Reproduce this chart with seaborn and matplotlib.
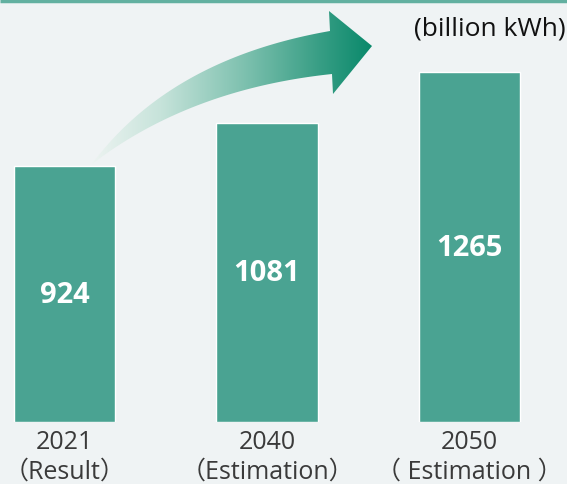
import numpy as np
import matplotlib
matplotlib.use('Agg')
import matplotlib.pyplot as plt
import seaborn as sns
from matplotlib.path import Path
from matplotlib.patches import PathPatch
from matplotlib.colors import LinearSegmentedColormap

# data
years = ['2021', '2040', '2050']
notes = ['（Result）', '（Estimation）', '（ Estimation ）']
values = [924, 1081, 1265]
unit_label = '(billion kWh)'

bg = '#eff3f4'
bar_color = '#4aa392'

sns.set_theme(style='white')
plt.rcParams['font.family'] = ['Open Sans', 'Noto Sans CJK JP', 'DejaVu Sans']

W, H = 567, 485
fig = plt.figure(figsize=(W / 100, H / 100), dpi=100, facecolor=bg)

# bar axes: baseline at y=423 px, bar centres 202.5 px apart
ax = fig.add_axes([0, (H - 423) / H, 1, 423 / H])
ax.set_facecolor(bg)
labels = [f'{y}\n{n}' for y, n in zip(years, notes)]
sns.barplot(x=labels, y=values, color=bar_color, saturation=1, width=0.5, ax=ax)
ax.set_xlim(-64.5 / 202.5, (W - 64.5) / 202.5)
ax.set_ylim(0, 423 / 0.2766)
for s in ax.spines.values():
    s.set_visible(False)
ax.set_yticks([])
ax.tick_params(axis='x', length=0, pad=5, labelsize=18, labelcolor='#3a3a3a')
for t in ax.get_xticklabels():
    t.set_linespacing(1.25)
ax.set_xlabel('')
ax.set_ylabel('')

for i, v in enumerate(values):
    ax.text(i, v / 2, str(v), ha='center', va='center', color='white',
            fontsize=21, fontweight='bold')

# overlay in pixel coords for the arrow and top rule
ov = fig.add_axes([0, 0, 1, 1], facecolor='none')
ov.plot([0, W], [1.5, 1.5], color='#62b0a0', lw=2.5, solid_capstyle='butt')


def qbez(p0, p1, p2, n=60):
    t = np.linspace(0, 1, n)[:, None]
    return (1 - t) ** 2 * np.array(p0) + 2 * (1 - t) * t * np.array(p1) + t ** 2 * np.array(p2)


top = qbez((92, 165), (170, 60), (330, 32))
bot = qbez((92, 165), (190, 90), (332, 75))
head = np.array([[330, 32], [329, 12], [372, 47], [333, 95], [332, 75]])
verts = np.vstack([top, head, bot[::-1]])
arrow = PathPatch(Path(verts, closed=True), facecolor='none', edgecolor='none')
ov.add_patch(arrow)

cmap = LinearSegmentedColormap.from_list(
    'arr', [(0, '#eef4f2'), (0.25, '#c6e3da'), (0.55, '#7cc0ae'), (0.8, '#3a9f86'), (1, '#07886a')])
grad = np.linspace(0, 1, 256)[None, :]
im = ov.imshow(grad, cmap=cmap, extent=(90, 374, 172, 8), aspect='auto', zorder=3)
im.set_clip_path(arrow)
ov.set_xlim(0, W)
ov.set_ylim(H, 0)
ov.axis('off')

fig.text(566 / W, 1 - 29 / H, unit_label, ha='right', va='center',
         fontsize=19, color='#111111')

fig.savefig('out.png', dpi=100, facecolor=bg)
